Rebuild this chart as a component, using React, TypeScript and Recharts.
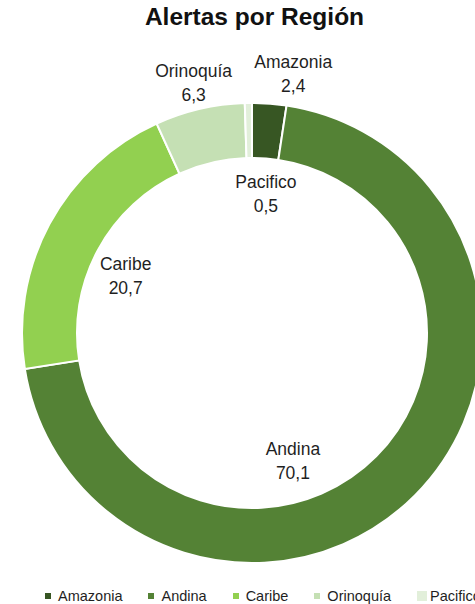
import { PieChart, Pie, Cell, Legend } from "recharts";

const regiones = ["Amazonia", "Andina", "Caribe", "Orinoquía", "Pacifico"];
const alertas = [2.4, 70.1, 20.7, 6.3, 0.5];
const colores = ["#375623", "#548235", "#92D050", "#C5E0B4", "#E2EFDA"];

// where Excel put each label: radius from centre and angle shift from the slice middle
const posLabel: Record<string, { r: number; shift: number }> = {
  Amazonia: { r: 263, shift: -4.7 },
  Andina: { r: 134, shift: -27.4 },
  Caribe: { r: 139, shift: 3.6 },
  "Orinoquía": { r: 257, shift: 0 },
  Pacifico: { r: 140, shift: -6.6 },
};

// the last legend swatch is drawn bigger in the original
const tamMarcador = [6, 6, 6, 6, 10];

const data = regiones.map((name, i) => ({ name, value: alertas[i] }));

const RAD = Math.PI / 180;
const fmt = (v: number) => v.toFixed(1).replace(".", ",");

const renderLabel = (props: any) => {
  const { cx, cy, midAngle, name, value } = props;
  const p = posLabel[name];
  const ang = (midAngle + p.shift) * RAD;
  const x = cx + p.r * Math.cos(-ang);
  const y = cy + p.r * Math.sin(-ang);
  return (
    <text x={x} y={y} textAnchor="middle" fill="#1f1f1f" fontSize={17.5} fontFamily="'Liberation Sans', Arial, sans-serif">
      <tspan x={x} y={y - 5.5}>{name}</tspan>
      <tspan x={x} y={y + 18.5}>{fmt(value)}</tspan>
    </text>
  );
};

const renderLegend = () => (
  <div style={{ display: "flex", fontFamily: "'Liberation Sans', Arial, sans-serif", fontSize: 14.5, color: "#1f1f1f", paddingLeft: 45, whiteSpace: "nowrap" }}>
    {regiones.map((r, i) => (
      <div key={r} style={{ display: "flex", alignItems: "center", marginRight: 26 }}>
        <span style={{ width: tamMarcador[i], height: tamMarcador[i], background: colores[i], marginRight: i === 4 ? 3 : 7, display: "inline-block" }} />
        <span>{r}</span>
      </div>
    ))}
  </div>
);

export default function App() {
  return (
    <div style={{ position: "absolute", left: 0, top: 0, width: 475, height: 604, overflow: "hidden", background: "#fff" }}>
      <div style={{ position: "absolute", left: 0, width: 509, top: 3, textAlign: "center", fontFamily: "'Liberation Sans', Arial, sans-serif", fontWeight: "bold", fontSize: 24.5, color: "#111" }}>
        Alertas por Región
      </div>
      <PieChart width={475} height={604}>
        <Pie
          data={data}
          dataKey="value"
          nameKey="name"
          cx={247}
          cy={328}
          innerRadius={175}
          outerRadius={230}
          startAngle={90}
          endAngle={-270}
          stroke="#fff"
          strokeWidth={2}
          label={renderLabel}
          labelLine={false}
          isAnimationActive={false}
        >
          {data.map((d, i) => (
            <Cell key={d.name} fill={colores[i]} />
          ))}
        </Pie>
        <Legend content={renderLegend} verticalAlign="bottom" wrapperStyle={{ bottom: 0, left: 0, width: 475 }} />
      </PieChart>
    </div>
  );
}
